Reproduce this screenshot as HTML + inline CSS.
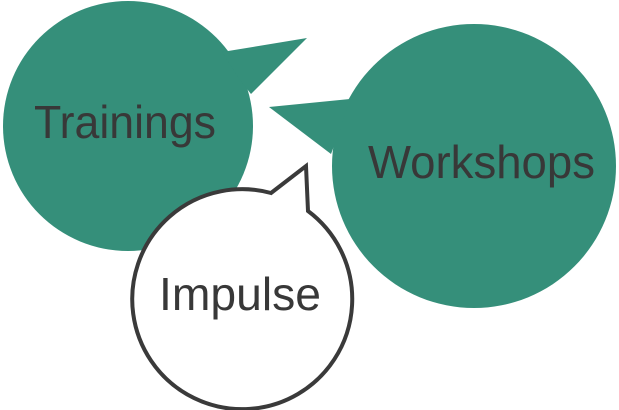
<!DOCTYPE html>
<html><head><meta charset="utf-8"><style>
html,body{margin:0;padding:0;background:#fff;}
svg{display:block;}
text{font-family:"Liberation Sans",sans-serif;fill:#383838;}
</style></head><body>
<svg width="619" height="410" viewBox="0 0 619 410" xmlns="http://www.w3.org/2000/svg">
<ellipse cx="128" cy="126" rx="125" ry="125" fill="#358f7a"/>
<polygon points="222,52 307,38 251,94 240,80" fill="#358f7a"/>
<circle cx="474" cy="166" r="142" fill="#358f7a"/>
<polygon points="350,99 269,107 331,154 340,130" fill="#358f7a"/>
<path d="M271,193 A110,110 0 1,0 308,211 L306,166 Z" fill="#fff" stroke="#3a3a3a" stroke-width="4" stroke-linejoin="miter"/>
<text x="34" y="138" font-size="46" textLength="182" lengthAdjust="spacingAndGlyphs">Trainings</text>
<text x="368" y="178" font-size="46" textLength="227" lengthAdjust="spacingAndGlyphs">Workshops</text>
<text x="159" y="310" font-size="46" textLength="162" lengthAdjust="spacingAndGlyphs">Impulse</text>
</svg>
</body></html>
